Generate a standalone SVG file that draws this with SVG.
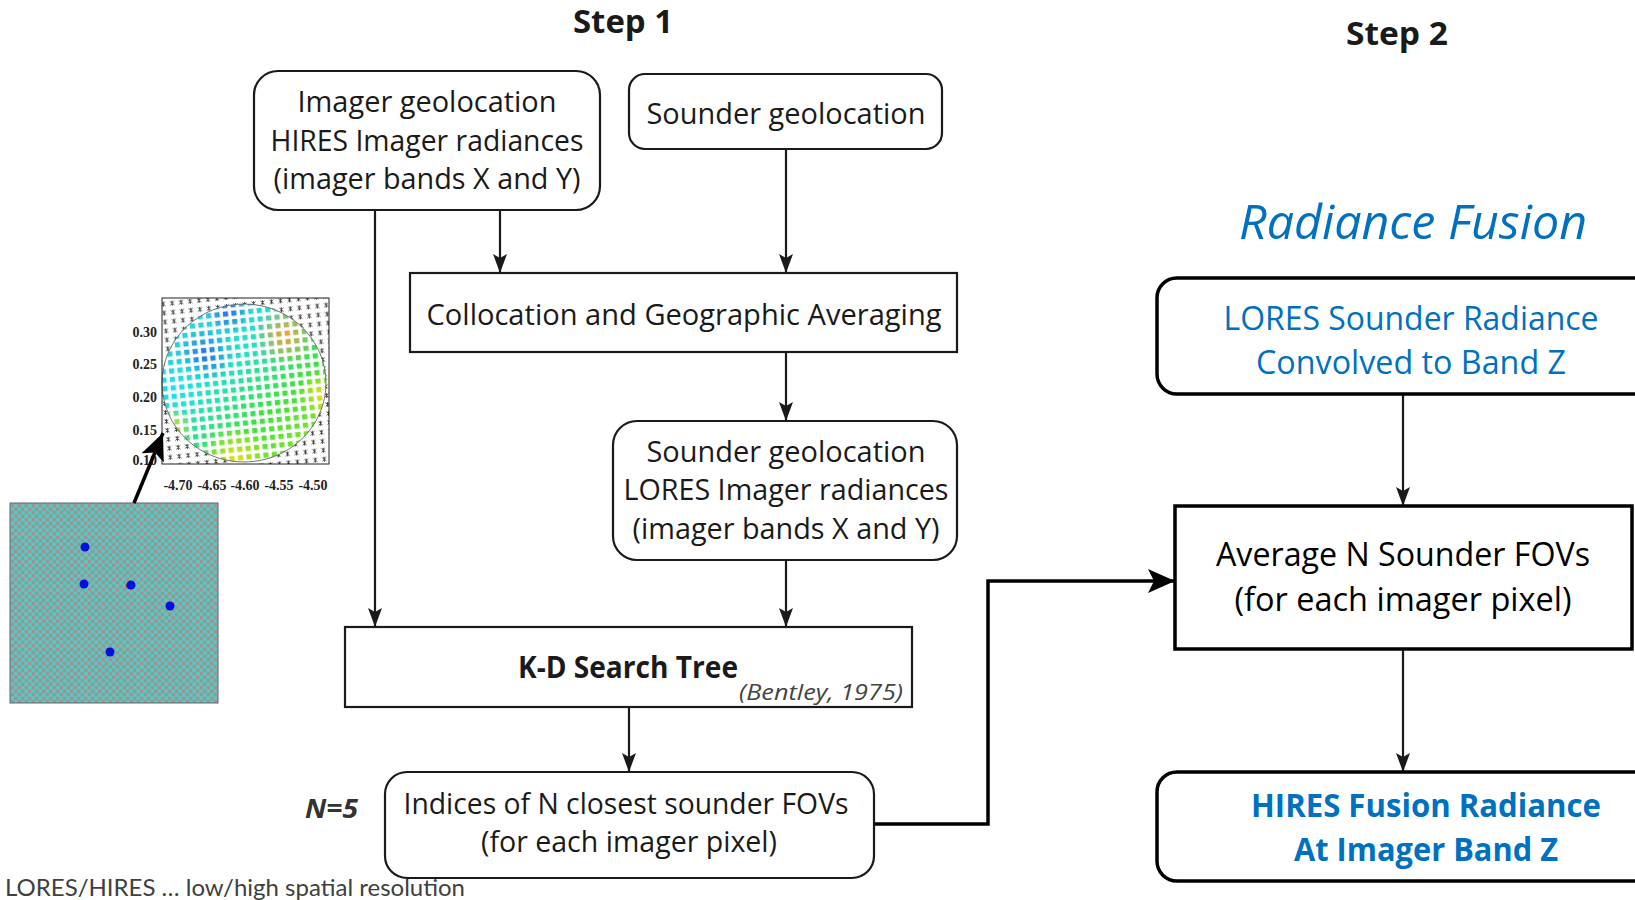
<svg xmlns="http://www.w3.org/2000/svg" width="1635" height="900" viewBox="0 0 1635 900">
<style>
.box{fill:#fff;stroke:#1a1a1a;stroke-width:2.2}
.rbox{fill:#fff;stroke:#000;stroke-width:3.5}
.lt{font-family:"Open Sans","Noto Sans",sans-serif;font-size:30px;fill:#1a1a1a;text-anchor:middle}
.rt{font-family:"Open Sans","Noto Sans",sans-serif;font-size:33px;fill:#000;text-anchor:middle}
.blue{fill:#0070c0}
.conn{fill:none;stroke:#1a1a1a;stroke-width:2.2}
.thick{fill:none;stroke:#000;stroke-width:3.5}
.ax{font-family:"Liberation Serif",serif;font-weight:bold;font-size:14px;fill:#222}
.head{font-family:"Open Sans","Noto Sans",sans-serif;font-weight:bold;font-size:33px;fill:#1a1a1a;text-anchor:middle}
</style>
<defs>
<marker id="ah" markerUnits="userSpaceOnUse" markerWidth="20" markerHeight="16" refX="19" refY="8" orient="auto"><path d="M0,1 L19,8 L0,15 L4,8 z" fill="#1a1a1a"/></marker>
<marker id="ahb" markerUnits="userSpaceOnUse" markerWidth="28" markerHeight="26" refX="27" refY="13" orient="auto"><path d="M0,1 L27,13 L0,25 L6,13 z" fill="#000"/></marker>
<pattern id="teal" width="7" height="7" patternUnits="userSpaceOnUse"><rect width="7" height="7" fill="#9a9494"/><circle cx="1.75" cy="1.75" r="2.2" fill="#5cc6be"/><circle cx="5.25" cy="5.25" r="2.2" fill="#5cc6be"/></pattern>
<pattern id="stars" width="9" height="9" patternUnits="userSpaceOnUse" patternTransform="rotate(-6)"><path d="M2.5,2.5 L6.5,6.5 M6.5,2.5 L2.5,6.5 M4.5,2 V7" stroke="#333" stroke-width="0.9"/></pattern>
<pattern id="marks" width="8.5" height="8.5" patternUnits="userSpaceOnUse" patternTransform="rotate(-6)"><rect x="1.8" y="1.8" width="5.2" height="5.2" fill="#fff"/></pattern>
<mask id="mk"><rect x="150" y="290" width="190" height="190" fill="url(#marks)"/></mask>
<clipPath id="circ"><ellipse cx="244" cy="383" rx="82" ry="79"/></clipPath>
<linearGradient id="gbase" x1="0" y1="0" x2="1" y2="1"><stop offset="0" stop-color="#30c8f0"/><stop offset="0.4" stop-color="#20e0c8"/><stop offset="0.65" stop-color="#40e040"/><stop offset="1" stop-color="#b8e020"/></linearGradient>
<radialGradient id="gblue"><stop offset="0" stop-color="#2868f0" stop-opacity="1"/><stop offset="1" stop-color="#2868f0" stop-opacity="0"/></radialGradient>
<radialGradient id="gor"><stop offset="0" stop-color="#f8a030" stop-opacity="1"/><stop offset="1" stop-color="#f8a030" stop-opacity="0"/></radialGradient>
<radialGradient id="gyel"><stop offset="0" stop-color="#e8e010" stop-opacity="1"/><stop offset="1" stop-color="#e8e010" stop-opacity="0"/></radialGradient>
<radialGradient id="gcy"><stop offset="0" stop-color="#20e0f0" stop-opacity="1"/><stop offset="1" stop-color="#20e0f0" stop-opacity="0"/></radialGradient>
</defs>
<rect width="1635" height="900" fill="#fff"/>

<!-- headings -->
<text class="head" x="623" y="33" textLength="100" lengthAdjust="spacingAndGlyphs">Step 1</text>
<text class="head" x="1397" y="45" textLength="102" lengthAdjust="spacingAndGlyphs">Step 2</text>
<text x="1413" y="239" font-family="Open Sans, Noto Sans, sans-serif" font-style="italic" font-size="48" fill="#0070c0" text-anchor="middle" textLength="348" lengthAdjust="spacingAndGlyphs">Radiance Fusion</text>

<!-- thumbnails -->
<g id="plot">
<rect x="162" y="298" width="167" height="166" fill="#fff"/>
<rect x="162" y="298" width="167" height="166" fill="url(#stars)"/>
<ellipse cx="244" cy="383" rx="82" ry="79" fill="#fff"/>
<g clip-path="url(#circ)"><g mask="url(#mk)">
<rect x="160" y="300" width="170" height="170" fill="url(#gbase)"/>
<circle cx="228" cy="312" r="22" fill="url(#gblue)"/>
<circle cx="205" cy="355" r="28" fill="url(#gblue)"/>
<circle cx="180" cy="385" r="30" fill="url(#gcy)"/>
<circle cx="285" cy="335" r="32" fill="url(#gor)"/>
<circle cx="235" cy="458" r="34" fill="url(#gyel)"/>
<circle cx="322" cy="395" r="24" fill="url(#gyel)"/>
<circle cx="172" cy="428" r="22" fill="url(#gyel)"/>
</g></g>
<ellipse cx="244" cy="383" rx="82" ry="79" fill="none" stroke="#555" stroke-width="0.8"/>
<rect x="162" y="298" width="167" height="166" fill="none" stroke="#222" stroke-width="1"/>
<text class="ax" x="157" y="337" text-anchor="end">0.30</text>
<text class="ax" x="157" y="369" text-anchor="end">0.25</text>
<text class="ax" x="157" y="402" text-anchor="end">0.20</text>
<text class="ax" x="157" y="435" text-anchor="end">0.15</text>
<text class="ax" x="157" y="465" text-anchor="end">0.10</text>
<text class="ax" x="178" y="490" text-anchor="middle">-4.70</text>
<text class="ax" x="212" y="490" text-anchor="middle">-4.65</text>
<text class="ax" x="245" y="490" text-anchor="middle">-4.60</text>
<text class="ax" x="279" y="490" text-anchor="middle">-4.55</text>
<text class="ax" x="313" y="490" text-anchor="middle">-4.50</text>
</g>
<g id="grid">
<rect x="10" y="503" width="208" height="200" fill="url(#teal)" stroke="#666" stroke-width="1"/>
<circle cx="128" cy="586" r="2.5" fill="#e03030"/>
<circle cx="85" cy="547" r="4.5" fill="#0010e0"/>
<circle cx="84" cy="584" r="4.5" fill="#0010e0"/>
<circle cx="131" cy="585" r="4.5" fill="#0010e0"/>
<circle cx="170" cy="606" r="4.5" fill="#0010e0"/>
<circle cx="110" cy="652" r="4.5" fill="#0010e0"/>
</g>
<path d="M134,503 L163,433" fill="none" stroke="#000" stroke-width="3.5" marker-end="url(#ahb)"/>

<!-- connectors -->
<g id="connectors">
<path class="conn" d="M375,210 V627" marker-end="url(#ah)"/>
<path class="conn" d="M500,210 V273" marker-end="url(#ah)"/>
<path class="conn" d="M786,149 V273" marker-end="url(#ah)"/>
<path class="conn" d="M786,352 V421" marker-end="url(#ah)"/>
<path class="conn" d="M786,560 V627" marker-end="url(#ah)"/>
<path class="conn" d="M629,707 V772" marker-end="url(#ah)"/>
<path class="conn" d="M1403,394 V506" marker-end="url(#ah)"/>
<path class="conn" d="M1403,649 V772" marker-end="url(#ah)"/>
<path class="thick" d="M874,824 H988 V581 H1175" marker-end="url(#ahb)"/>
</g>

<!-- nodes -->
<g id="imager">
<rect class="box" x="254" y="71" width="346" height="139" rx="24"/>
<text class="lt" x="427" y="112" textLength="259" lengthAdjust="spacingAndGlyphs">Imager geolocation</text>
<text class="lt" x="427" y="151" textLength="313" lengthAdjust="spacingAndGlyphs">HIRES Imager radiances</text>
<text class="lt" x="427" y="189" textLength="307" lengthAdjust="spacingAndGlyphs">(imager bands X and Y)</text>
</g>
<g id="sounder">
<rect class="box" x="629" y="74" width="313" height="75" rx="16"/>
<text class="lt" x="786" y="124" textLength="279" lengthAdjust="spacingAndGlyphs">Sounder geolocation</text>
</g>
<g id="collocation">
<rect class="box" x="410" y="273" width="547" height="79"/>
<text class="lt" x="684" y="325" textLength="515" lengthAdjust="spacingAndGlyphs">Collocation and Geographic Averaging</text>
</g>
<g id="lores">
<rect class="box" x="613" y="421" width="344" height="139" rx="24"/>
<text class="lt" x="786" y="462" textLength="279" lengthAdjust="spacingAndGlyphs">Sounder geolocation</text>
<text class="lt" x="786" y="500" textLength="325" lengthAdjust="spacingAndGlyphs">LORES Imager radiances</text>
<text class="lt" x="786" y="539" textLength="307" lengthAdjust="spacingAndGlyphs">(imager bands X and Y)</text>
</g>
<g id="kdtree">
<rect class="box" x="345" y="627" width="567" height="80"/>
<text class="lt" x="628" y="678" font-weight="bold" font-size="29" textLength="220" lengthAdjust="spacingAndGlyphs">K-D Search Tree</text>
<text x="903" y="700" font-family="Open Sans, Noto Sans, sans-serif" font-style="italic" font-size="22" fill="#444" text-anchor="end" textLength="164" lengthAdjust="spacingAndGlyphs">(Bentley, 1975)</text>
</g>
<g id="indices">
<rect class="box" x="385" y="772" width="489" height="106" rx="22"/>
<text class="lt" x="626" y="814" textLength="445" lengthAdjust="spacingAndGlyphs">Indices of N closest sounder FOVs</text>
<text class="lt" x="629" y="852" textLength="296" lengthAdjust="spacingAndGlyphs">(for each imager pixel)</text>
</g>
<text x="305" y="818" font-family="Open Sans, Noto Sans, sans-serif" font-weight="bold" font-style="italic" font-size="27" fill="#333" textLength="53" lengthAdjust="spacingAndGlyphs">N=5</text>

<g id="loresSounder">
<rect class="rbox" x="1157" y="278" width="520" height="116" rx="20"/>
<text class="rt blue" x="1411" y="330" textLength="375" lengthAdjust="spacingAndGlyphs">LORES Sounder Radiance</text>
<text class="rt blue" x="1411" y="374" textLength="310" lengthAdjust="spacingAndGlyphs">Convolved to Band Z</text>
</g>
<g id="average">
<rect class="rbox" x="1175" y="506" width="457" height="143"/>
<text class="rt" x="1403" y="566" textLength="374" lengthAdjust="spacingAndGlyphs">Average N Sounder FOVs</text>
<text class="rt" x="1403" y="611" textLength="337" lengthAdjust="spacingAndGlyphs">(for each imager pixel)</text>
</g>
<g id="hires">
<rect class="rbox" x="1157" y="772" width="520" height="109" rx="20"/>
<text class="rt blue" x="1426" y="817" font-weight="bold" textLength="350" lengthAdjust="spacingAndGlyphs">HIRES Fusion Radiance</text>
<text class="rt blue" x="1426" y="861" font-weight="bold" textLength="264" lengthAdjust="spacingAndGlyphs">At Imager Band Z</text>
</g>

<text x="5" y="896" font-family="Lato, Open Sans, sans-serif" font-size="24" fill="#404040" textLength="460" lengthAdjust="spacingAndGlyphs">LORES/HIRES … low/high spatial resolution</text>
</svg>
